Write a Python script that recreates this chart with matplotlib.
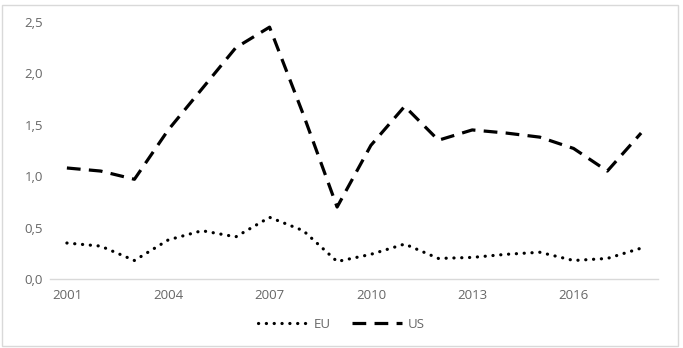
import matplotlib.pyplot as plt
from matplotlib.patches import Rectangle
from matplotlib.ticker import FuncFormatter

# ---------------- data ----------------
years = list(range(2001, 2019))
eu = [0.35, 0.32, 0.18, 0.38, 0.47, 0.41, 0.60, 0.47, 0.17,
      0.24, 0.34, 0.20, 0.21, 0.24, 0.26, 0.18, 0.20, 0.30]
us = [1.08, 1.05, 0.97, 1.45, 1.85, 2.25, 2.45, 1.60, 0.70,
      1.30, 1.68, 1.35, 1.45, 1.42, 1.38, 1.27, 1.05, 1.42]
tick_years = [2001, 2004, 2007, 2010, 2013, 2016]

grey = '#666666'
plt.rcParams['font.family'] = ['Open Sans', 'DejaVu Sans']

fig = plt.figure(figsize=(6.83, 3.48), dpi=100)
ax = fig.add_axes([50 / 683, 1 - 279 / 348, 608 / 683, 257 / 348])

ax.plot(years, eu, color='black', lw=2.3, linestyle=(0, (0.05, 2.4)),
        dash_capstyle='round', label='EU')
ax.plot(years, us, color='black', lw=2.3, linestyle=(0, (4.3, 2.6)),
        dash_capstyle='butt', label='US')

ax.set_xlim(2000.5, 2018.5)
ax.set_ylim(0, 2.5)
ax.set_xticks(tick_years)
ax.set_yticks([0, 0.5, 1.0, 1.5, 2.0, 2.5])
ax.yaxis.set_major_formatter(FuncFormatter(lambda v, p: f'{v:.1f}'.replace('.', ',')))
ax.tick_params(length=0, labelsize=9.5, colors=grey, pad=7)
ax.tick_params(axis='y', pad=5)

for s in ['top', 'right', 'left']:
    ax.spines[s].set_visible(False)
ax.spines['bottom'].set_color('#d9d9d9')
ax.spines['bottom'].set_linewidth(1)

leg = fig.legend(loc='center', bbox_to_anchor=(0.5, 1 - 324 / 348), ncol=2,
                 frameon=False, fontsize=9.5, handlelength=3.8, columnspacing=1.6,
                 handletextpad=0.4)
for t in leg.get_texts():
    t.set_color(grey)

# border around whole chart
fig.patches.append(Rectangle((2 / 683, 2 / 348), 676 / 683, 341 / 348,
                             transform=fig.transFigure, fill=False,
                             edgecolor='#d9d9d9', lw=1))

fig.savefig('out.png', dpi=100)
